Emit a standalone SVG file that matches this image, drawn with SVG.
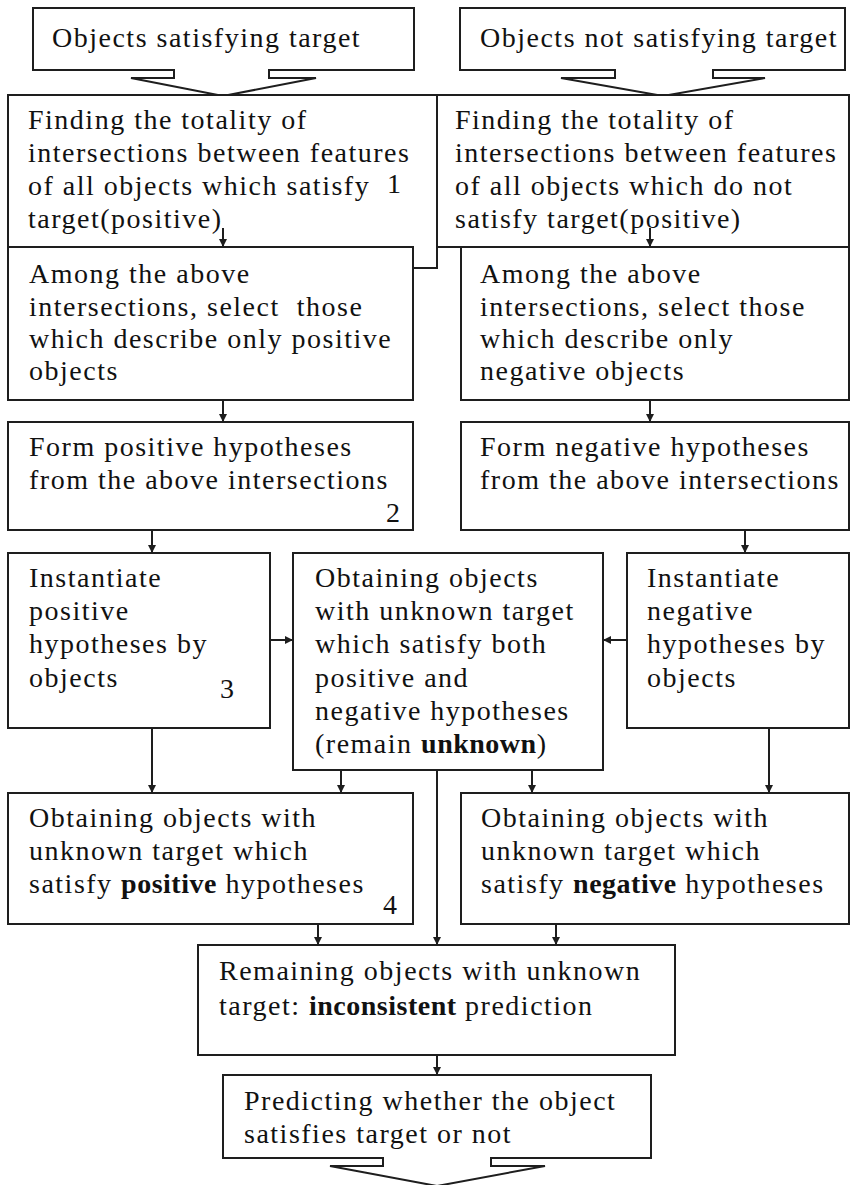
<svg xmlns="http://www.w3.org/2000/svg" width="854" height="1185" viewBox="0 0 854 1185">
<style>
.box{fill:#fff;stroke:#1e1e1e;stroke-width:2}
.t{font-family:"Liberation Serif","Times New Roman",serif;font-size:28px;letter-spacing:1.5px;fill:#111}
.b{font-weight:bold;letter-spacing:0.5px}
.c{fill:none;stroke:#1e1e1e;stroke-width:2}
</style>
<defs>
<marker id="ah" viewBox="0 0 10 10" refX="10" refY="5" markerWidth="8" markerHeight="8" markerUnits="userSpaceOnUse" orient="auto">
<path d="M0,0 L10,5 L0,10 z" fill="#1e1e1e"/>
</marker>
</defs>
<rect width="854" height="1185" fill="#fff"/>

<g id="n-pos-objects">
<path class="box" d="M33,8 H414 V70 H269 V78 H316 L223,96 L131,78 H174 V70 H33 Z"/>
<text class="t" x="52" y="47">Objects satisfying target</text>
</g>
<g id="n-neg-objects">
<path class="box" d="M460,8 H845 V70 H713 V78 H765 L663,96 L561,78 H615 V70 H460 Z"/>
<text class="t" x="480" y="47">Objects not satisfying target</text>
</g>

<g id="n-find-pos">
<rect class="box" x="8" y="95" width="429" height="173"/>
<text class="t" x="28" y="129">Finding the totality of</text>
<text class="t" x="28" y="162">intersections between features</text>
<text class="t" x="28" y="195">of all objects which satisfy</text>
<text class="t" x="387" y="193">1</text>
<text class="t" x="28" y="228">target(positive)</text>
</g>
<g id="n-find-neg">
<rect class="box" x="437" y="95" width="412" height="152"/>
<text class="t" x="455" y="129">Finding the totality of</text>
<text class="t" x="455" y="162">intersections between features</text>
<text class="t" x="455" y="195">of all objects which do not</text>
<text class="t" x="455" y="228">satisfy target(positive)</text>
</g>

<g id="n-select-pos">
<rect class="box" x="8" y="247" width="405" height="153"/>
<text class="t" x="29" y="283">Among the above</text>
<text class="t" x="29" y="316" xml:space="preserve">intersections, select  those</text>
<text class="t" x="29" y="348">which describe only positive</text>
<text class="t" x="29" y="380">objects</text>
</g>
<g id="n-select-neg">
<rect class="box" x="461" y="247" width="388" height="153"/>
<text class="t" x="480" y="283">Among the above</text>
<text class="t" x="480" y="316">intersections, select those</text>
<text class="t" x="480" y="348">which describe only</text>
<text class="t" x="480" y="380">negative objects</text>
</g>

<g id="n-form-pos">
<rect class="box" x="8" y="422" width="405" height="108"/>
<text class="t" x="29" y="456">Form positive hypotheses</text>
<text class="t" x="29" y="489">from the above intersections</text>
<text class="t" x="386" y="522">2</text>
</g>
<g id="n-form-neg">
<rect class="box" x="461" y="422" width="388" height="108"/>
<text class="t" x="480" y="456">Form negative hypotheses</text>
<text class="t" x="480" y="489">from the above intersections</text>
</g>

<g id="n-inst-pos">
<rect class="box" x="8" y="553" width="262" height="175"/>
<text class="t" x="29" y="587">Instantiate</text>
<text class="t" x="29" y="620">positive</text>
<text class="t" x="29" y="653">hypotheses by</text>
<text class="t" x="29" y="687">objects</text>
<text class="t" x="220" y="698">3</text>
</g>
<g id="n-both">
<rect class="box" x="293" y="553" width="310" height="217"/>
<text class="t" x="315" y="587">Obtaining objects</text>
<text class="t" x="315" y="620">with unknown target</text>
<text class="t" x="315" y="653">which satisfy both</text>
<text class="t" x="315" y="687">positive and</text>
<text class="t" x="315" y="720">negative hypotheses</text>
<text class="t" x="315" y="753">(remain <tspan class="b">unknown</tspan>)</text>
</g>
<g id="n-inst-neg">
<rect class="box" x="627" y="553" width="222" height="175"/>
<text class="t" x="647" y="587">Instantiate</text>
<text class="t" x="647" y="620">negative</text>
<text class="t" x="647" y="653">hypotheses by</text>
<text class="t" x="647" y="687">objects</text>
</g>

<g id="n-obt-pos">
<rect class="box" x="8" y="793" width="405" height="131"/>
<text class="t" x="29" y="827">Obtaining objects with</text>
<text class="t" x="29" y="860">unknown target which</text>
<text class="t" x="29" y="893">satisfy <tspan class="b">positive</tspan> hypotheses</text>
<text class="t" x="383" y="914">4</text>
</g>
<g id="n-obt-neg">
<rect class="box" x="461" y="793" width="388" height="131"/>
<text class="t" x="481" y="827">Obtaining objects with</text>
<text class="t" x="481" y="860">unknown target which</text>
<text class="t" x="481" y="893">satisfy <tspan class="b">negative</tspan> hypotheses</text>
</g>

<g id="n-remaining">
<rect class="box" x="198" y="945" width="477" height="110"/>
<text class="t" x="219" y="980">Remaining objects with unknown</text>
<text class="t" x="219" y="1015">target: <tspan class="b">inconsistent</tspan> prediction</text>
</g>

<g id="n-predict">
<path class="box" d="M223,1075 H651 V1158 H491 V1166 H545 L437,1186 L330,1166 H383 V1158 H223 Z"/>
<text class="t" x="244" y="1110">Predicting whether the object</text>
<text class="t" x="244" y="1143">satisfies target or not</text>
</g>

<g id="connectors">
<line class="c" x1="223" y1="228" x2="223" y2="247" marker-end="url(#ah)"/>
<line class="c" x1="650" y1="228" x2="650" y2="247" marker-end="url(#ah)"/>
<line class="c" x1="223" y1="400" x2="223" y2="422" marker-end="url(#ah)"/>
<line class="c" x1="650" y1="400" x2="650" y2="422" marker-end="url(#ah)"/>
<line class="c" x1="152" y1="530" x2="152" y2="553" marker-end="url(#ah)"/>
<line class="c" x1="745" y1="530" x2="745" y2="553" marker-end="url(#ah)"/>
<line class="c" x1="270" y1="640" x2="293" y2="640" marker-end="url(#ah)"/>
<line class="c" x1="627" y1="640" x2="603" y2="640" marker-end="url(#ah)"/>
<line class="c" x1="152" y1="728" x2="152" y2="793" marker-end="url(#ah)"/>
<line class="c" x1="341" y1="770" x2="341" y2="793" marker-end="url(#ah)"/>
<line class="c" x1="532" y1="770" x2="532" y2="793" marker-end="url(#ah)"/>
<line class="c" x1="769" y1="728" x2="769" y2="793" marker-end="url(#ah)"/>
<line class="c" x1="318" y1="924" x2="318" y2="945" marker-end="url(#ah)"/>
<line class="c" x1="437" y1="770" x2="437" y2="945" marker-end="url(#ah)"/>
<line class="c" x1="556" y1="924" x2="556" y2="945" marker-end="url(#ah)"/>
<line class="c" x1="437" y1="1055" x2="437" y2="1075" marker-end="url(#ah)"/>
</g>
</svg>
